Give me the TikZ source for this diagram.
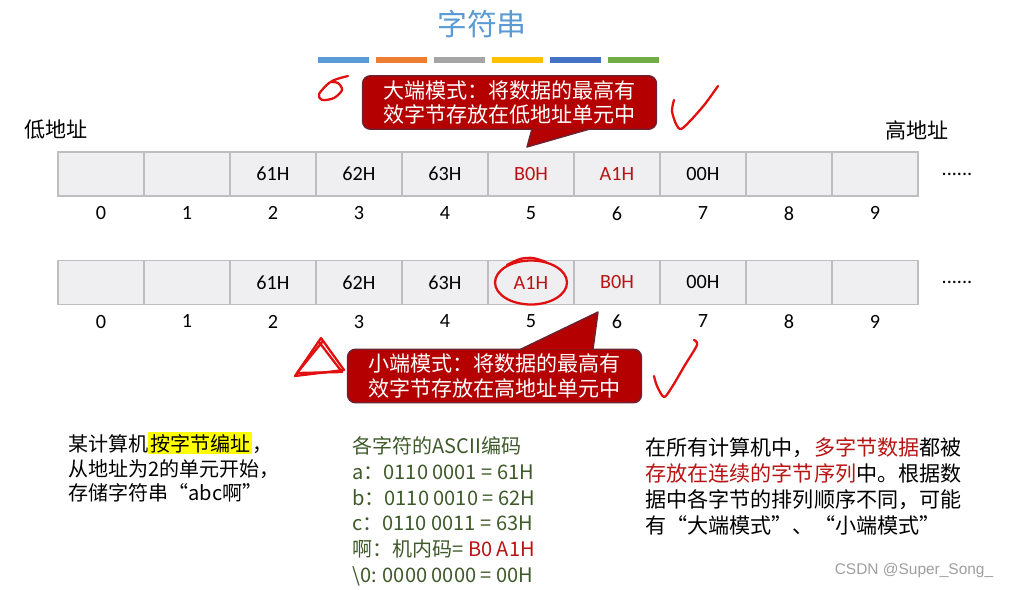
\documentclass[tikz,border=0pt]{standalone}
\usepackage{fontspec}
\setmainfont{Noto Sans CJK SC}
\newfontfamily\latin{Carlito}
\newfontfamily\markfont{Liberation Sans}
\definecolor{titleblue}{RGB}{91, 155, 213}
\definecolor{barorange}{RGB}{237, 125, 49}
\definecolor{bargray}{RGB}{165, 165, 165}
\definecolor{bargold}{RGB}{255, 192, 0}
\definecolor{bardblue}{RGB}{68, 114, 196}
\definecolor{bargreen}{RGB}{112, 173, 71}
\definecolor{cellfill}{RGB}{239, 238, 241}
\definecolor{celledge}{RGB}{190, 190, 192}
\definecolor{hired}{RGB}{185, 20, 20}
\definecolor{notered}{RGB}{180, 0, 0}
\definecolor{noteedge}{RGB}{105, 35, 50}
\definecolor{codegreen}{RGB}{62, 90, 42}
\definecolor{penred}{RGB}{225, 15, 15}
\definecolor{hiyellow}{RGB}{255, 255, 0}
\usepackage{tikz}
\usetikzlibrary{calc, positioning}

\begin{document}
\begin{tikzpicture}[x=0.02cm, y=-0.02cm,
  cell/.style={draw=celledge, line width=0.8pt, fill=cellfill, minimum width=1.72cm, minimum height=0.88cm, inner sep=0pt, font=\latin\fontsize{11.5}{12}\selectfont},
  idx/.style={font=\latin\fontsize{11.5}{12}\selectfont},
  note/.style={fill=notered, draw=noteedge, line width=0.8pt, rounded corners=4.5pt, text=white, align=center, minimum width=5.88cm, minimum height=1.07cm, inner sep=0pt, font=\fontsize{12}{14.2}\selectfont},
  notetip/.style={fill=notered, draw=noteedge, line width=0.8pt, line join=round},
  textblock/.style={anchor=north west, align=left, inner sep=0pt},
  pen/.style={penred, line width=1.3pt, line cap=round, line join=round}]
\useasboundingbox[fill=white] (0,0) rectangle (1010,589);

% title and colour bars
\node[text=titleblue, font=\fontsize{17}{20}\selectfont] (title) at (482,24) {字符串};
\foreach \k/\c in {0/titleblue, 1/barorange, 2/bargray, 3/bargold, 4/bardblue, 5/bargreen} {
  \draw[\c, line width=3.4pt] ({318+57.9*\k},60) -- ++(51,0);
}

\node[font=\fontsize{12}{14}\selectfont] (lowaddr) at (56,130) {低地址};
\node[font=\fontsize{12}{14}\selectfont] (highaddr) at (917,130) {高地址};

% big endian row
\foreach \i/\v/\c in {0//black, 1//black, 2/61H/black, 3/62H/black, 4/63H/black, 5/B0H/hired, 6/A1H/hired, 7/00H/black, 8//black, 9//black} {
  \node[cell, text=\c] (big\i) at ({101+86*\i},174) {\v};
  \node[idx, below=2pt of big\i] (bignum\i) {\i};
}
\node[idx] (bigmore) at (957,174) {......};

% little endian row
\foreach \i/\v/\c in {0//black, 1//black, 2/61H/black, 3/62H/black, 4/63H/black, 5/A1H/hired, 6/B0H/hired, 7/00H/black, 8//black, 9//black} {
  \node[cell, text=\c] (small\i) at ({101+86*\i},282.5) {\v};
  \node[idx, below=2pt of small\i] (smallnum\i) {\i};
}
\node[idx] (smallmore) at (957,282.5) {......};

% callouts
\node[note] (bignote) at (509.5,102.5) {大端模式：将数据的最高有\\效字节存放在低地址单元中};
\coordinate (bigtip) at (527,147);
\filldraw[notetip] ($(bignote.south)+(22.5,-1)$) -- (bigtip) -- ($(bignote.south)+(80.5,-1)$);

\node[note] (smallnote) at (494.5,376) {小端模式：将数据的最高有\\效字节存放在高地址单元中};
\coordinate (smalltip) at (598,312);
\filldraw[notetip] ($(smallnote.north)+(25.5,1)$) -- (smalltip) -- ($(smallnote.north)+(98.5,1)$);

% pen marks
\draw[pen] plot[smooth] coordinates {(348,76) (337,79) (329,83) (319,94) (322,100) (334,98) (342,90) (338,83) (330,82)};
\draw[pen] plot[smooth] coordinates {(674,100) (672,111) (676,124) (681,129) (691,120) (705,104) (718,86)};
\draw[pen] (small5.center) ellipse [x radius=0.72cm, y radius=0.44cm];
\draw[pen] plot[smooth] coordinates {(507,265) (520,259) (533,258) (546,262)};
\draw[pen] (321,338) -- (295,376) -- (344,370) -- cycle;
\draw[pen] (323,341) -- (297,373) -- (342,372) -- (319,342);
\draw[pen] plot[smooth] coordinates {(654,376) (657,386) (664,397) (672,387) (685,365) (697,345) (694,340)};

% texts
\node[textblock, font=\fontsize{11.4}{14.2}\selectfont] (task) at (68,432)
  {某计算机{\setlength{\fboxsep}{1pt}\colorbox{hiyellow}{按字节编址}}，\\从地址为2的单元开始，\\存储字符串“abc啊”};
\node[textblock, text=codegreen, font=\fontsize{11.4}{14.7}\selectfont] (ascii) at (352,436)
  {各字符的ASCII编码\\a：0110 0001 = 61H\\b：0110 0010 = 62H\\c：0110 0011 = 63H\\啊：机内码= \textcolor{hired}{B0 A1H}\\\textbackslash 0: 0000 0000 = 00H};
\node[textblock, font=\fontsize{12}{14.8}\selectfont] (summary) at (645,437)
  {在所有计算机中，\textcolor{hired}{多字节数据}都被\\\textcolor{hired}{存放在连续的字节序列}中。根据数\\据中各字节的排列顺序不同，可能\\有“大端模式”、“小端模式”};
\node[text=gray!75, font=\markfont\fontsize{8.8}{10}\selectfont] (mark) at (914,570) {CSDN @Super\_Song\_};
\end{tikzpicture}
\end{document}
